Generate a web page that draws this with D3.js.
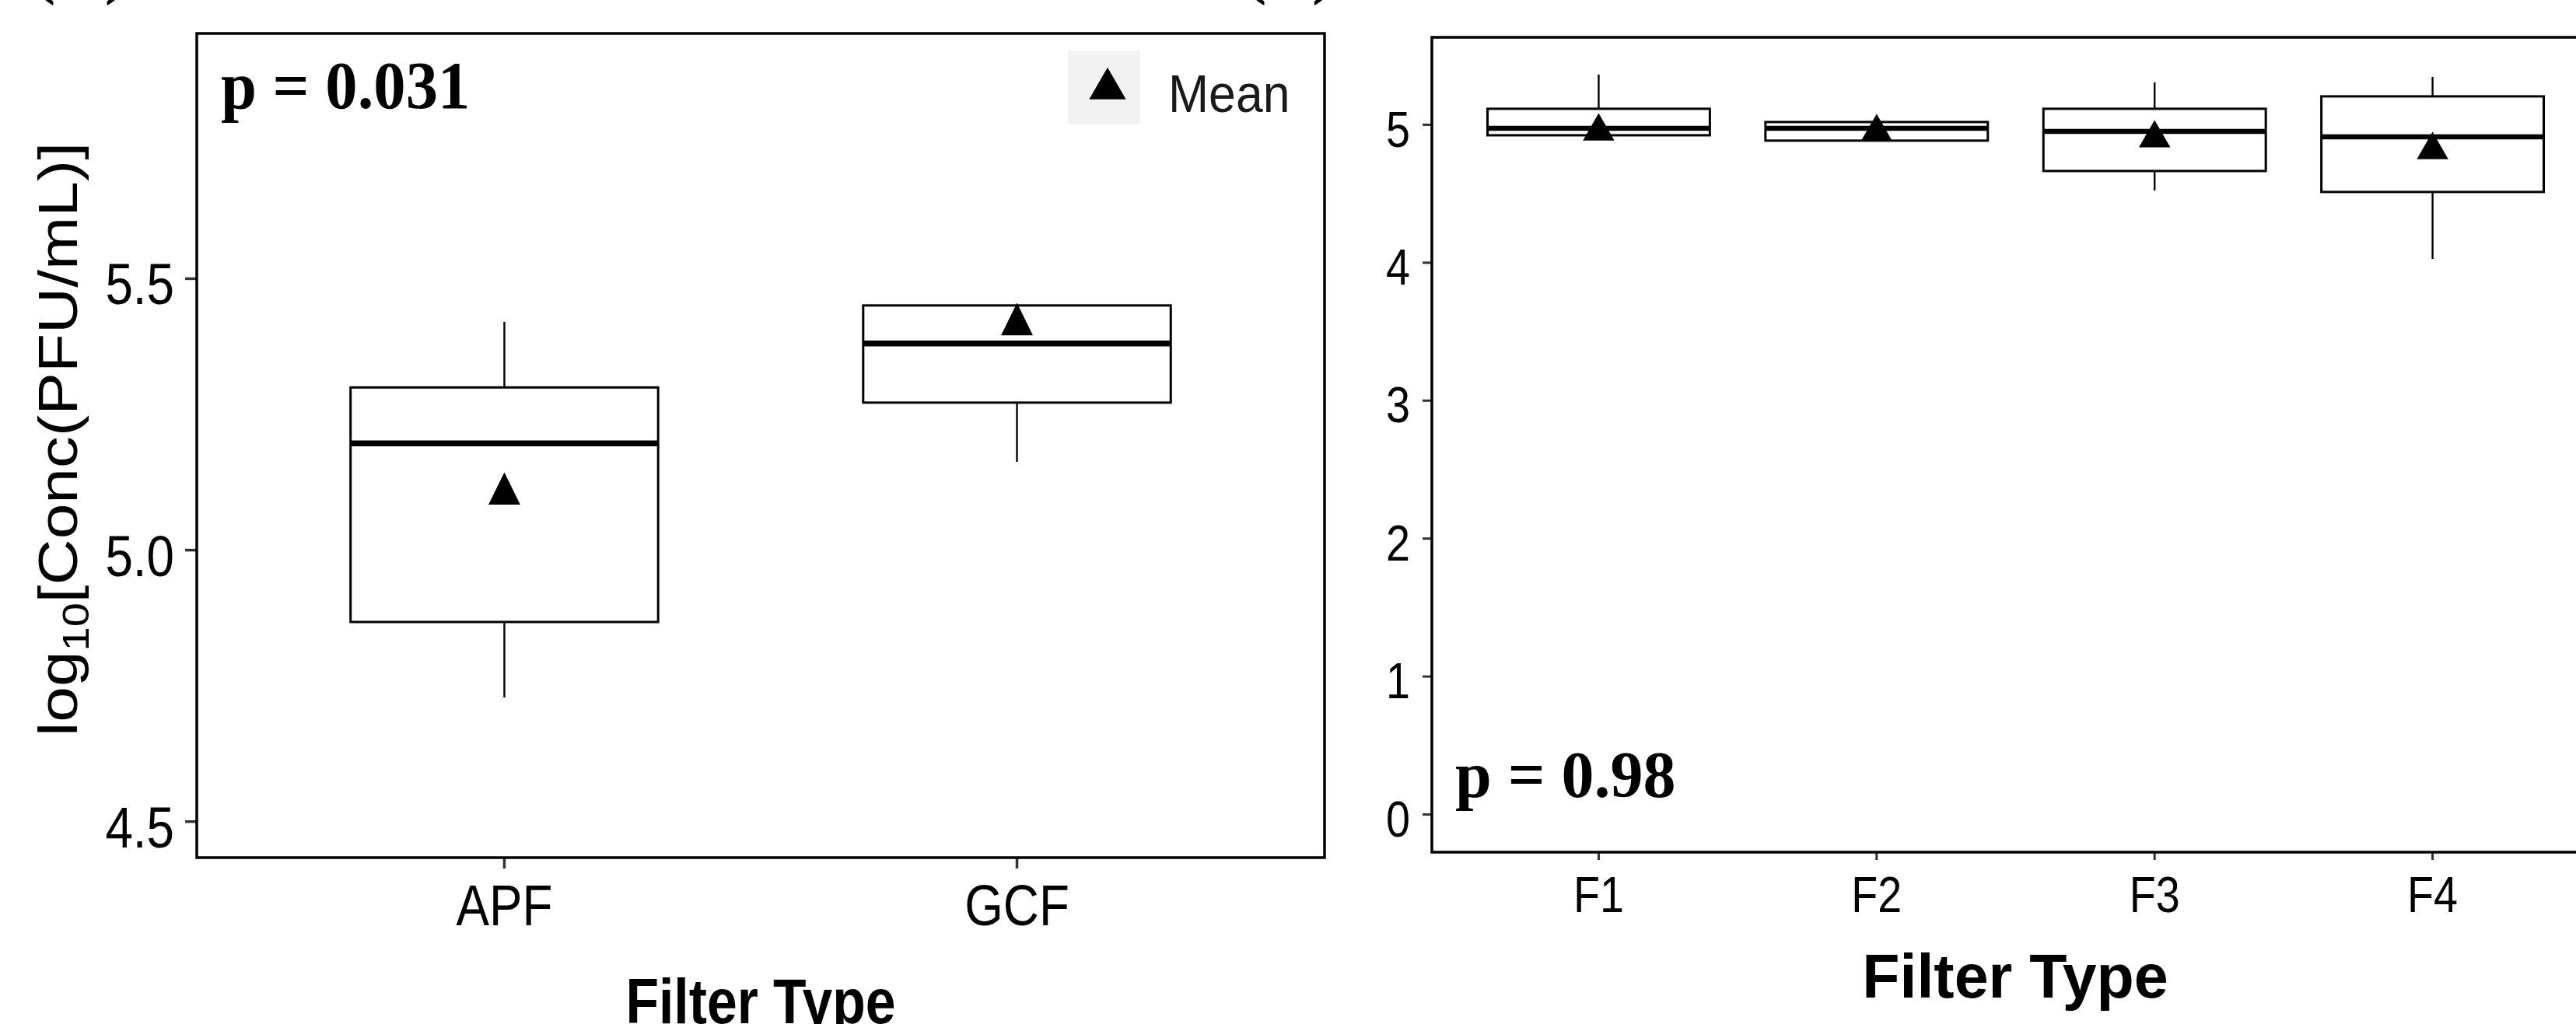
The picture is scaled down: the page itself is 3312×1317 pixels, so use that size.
<!DOCTYPE html>
<html lang="en">
<head>
    <meta charset="UTF-8">
    <title>Filter Type box plots</title>
    <style>
        body { margin: 0; background: #fff; }
        svg { display: block; }
        .sans { font-family: Arial, "Liberation Sans", sans-serif; }
        .serif { font-family: "Times New Roman", "Liberation Serif", serif; font-weight: bold; }
    </style>
</head>
<body>
    <div id="chart"></div>
    <script src="https://d3js.org/d3.v7.min.js"></script>
    <script>
        // panel A data (log10 PFU/mL)
        const leftCats = ["APF", "GCF"];
        const leftLow = [4.728, 5.162];
        const leftQ1 = [4.867, 5.271];
        const leftMedian = [5.196, 5.380];
        const leftQ3 = [5.299, 5.450];
        const leftHigh = [5.420, 5.450];
        const leftMean = [5.103, 5.415];
        const leftTicks = [4.5, 5.0, 5.5];

        // panel B data
        const rightCats = ["F1", "F2", "F3", "F4"];
        const rightLow = [4.921, 4.882, 4.521, 4.025];
        const rightQ1 = [4.921, 4.882, 4.662, 4.510];
        const rightMedian = [4.972, 4.972, 4.949, 4.910];
        const rightQ3 = [5.113, 5.017, 5.113, 5.203];
        const rightHigh = [5.361, 5.017, 5.304, 5.344];
        const rightMean = [4.949, 4.944, 4.899, 4.814];
        const rightTicks = [0, 1, 2, 3, 4, 5];

        const width = 3312;
        const height = 1317;

        const svg = d3.select('#chart')
            .append('svg')
            .attr('width', width)
            .attr('height', height);

        svg.append('rect').attr('width', width).attr('height', height).attr('fill', '#fff');

        // text placed in its own group so it can be squeezed horizontally
        function label(x, y, str, cls, size, sx, anchor) {
            const g = svg.append('g')
                .attr('transform', `translate(${x},${y}) scale(${sx},1)`);
            return g.append('text')
                .attr('class', cls)
                .attr('font-size', size)
                .attr('text-anchor', anchor || 'start')
                .attr('fill', '#000')
                .text(str);
        }

        function panel(cfg) {
            const x = d3.scaleBand()
                .domain(cfg.cats)
                .range([cfg.left, cfg.right])
                .paddingInner(0)
                .paddingOuter(0.1);
            const y = d3.scaleLinear()
                .domain(cfg.domain)
                .range([cfg.bottom, cfg.top]);

            const g = svg.append('g');
            const cx = d => x(d) + x.bandwidth() / 2;
            const half = x.bandwidth() * cfg.boxFrac / 2;

            const yAxis = d3.axisLeft(y)
                .tickValues(cfg.ticks)
                .tickFormat(cfg.fmt)
                .tickSize(cfg.yTick)
                .tickPadding(cfg.yPad);
            const ya = g.append('g')
                .attr('transform', `translate(${cfg.left},0)`)
                .call(yAxis);
            ya.select('.domain').remove();
            ya.selectAll('line').attr('stroke', '#333').attr('stroke-width', cfg.tickW);
            ya.selectAll('text')
                .attr('class', 'sans')
                .attr('font-size', cfg.tickFont)
                .attr('fill', '#000')
                .attr('dy', '0.44em')
                .attr('x', -(cfg.yTick + cfg.yPad) / cfg.tickSx)
                .attr('transform', `scale(${cfg.tickSx},1)`);

            const xAxis = d3.axisBottom(x)
                .tickSize(cfg.xTick)
                .tickPadding(cfg.xPad);
            const xa = g.append('g')
                .attr('transform', `translate(0,${cfg.bottom})`)
                .call(xAxis);
            xa.select('.domain').remove();
            xa.selectAll('line').attr('stroke', '#333').attr('stroke-width', cfg.tickW);
            xa.selectAll('text')
                .attr('class', 'sans')
                .attr('font-size', cfg.tickFont)
                .attr('fill', '#000')
                .attr('transform', `scale(${cfg.tickSx},1)`);
            xa.selectAll('.tick').each(function (d) {
                d3.select(this).attr('transform', `translate(${cx(d)},0)`);
            });

            const idx = cfg.cats.map((c, i) => i);
            const boxes = g.selectAll('.box').data(idx).enter().append('g');

            boxes.append('line')
                .attr('x1', i => cx(cfg.cats[i])).attr('x2', i => cx(cfg.cats[i]))
                .attr('y1', i => y(cfg.q3[i])).attr('y2', i => y(cfg.high[i]))
                .attr('stroke', '#000').attr('stroke-width', cfg.whiskW);
            boxes.append('line')
                .attr('x1', i => cx(cfg.cats[i])).attr('x2', i => cx(cfg.cats[i]))
                .attr('y1', i => y(cfg.q1[i])).attr('y2', i => y(cfg.low[i]))
                .attr('stroke', '#000').attr('stroke-width', cfg.whiskW);
            boxes.append('rect')
                .attr('x', i => cx(cfg.cats[i]) - half)
                .attr('width', half * 2)
                .attr('y', i => y(cfg.q3[i]))
                .attr('height', i => y(cfg.q1[i]) - y(cfg.q3[i]))
                .attr('fill', '#fff')
                .attr('stroke', '#000').attr('stroke-width', cfg.boxW);
            boxes.append('line')
                .attr('x1', i => cx(cfg.cats[i]) - half).attr('x2', i => cx(cfg.cats[i]) + half)
                .attr('y1', i => y(cfg.median[i])).attr('y2', i => y(cfg.median[i]))
                .attr('stroke', '#000').attr('stroke-width', cfg.medW);
            boxes.append('path')
                .attr('d', d3.symbol(d3.symbolTriangle, cfg.triSize)())
                .attr('transform', i => `translate(${cx(cfg.cats[i])},${y(cfg.mean[i])}) scale(${cfg.triSx},1)`)
                .attr('fill', '#000');

            g.append('rect')
                .attr('x', cfg.left).attr('y', cfg.top)
                .attr('width', cfg.right - cfg.left)
                .attr('height', cfg.bottom - cfg.top)
                .attr('fill', 'none')
                .attr('stroke', '#000')
                .attr('stroke-width', cfg.frameW);
        }

        panel({
            cats: leftCats, low: leftLow, q1: leftQ1, median: leftMedian,
            q3: leftQ3, high: leftHigh, mean: leftMean, ticks: leftTicks,
            fmt: d3.format('.1f'), domain: [4.433, 5.951],
            left: 253, right: 1703, top: 43, bottom: 1103,
            boxFrac: 0.6, boxW: 3, medW: 7.5, whiskW: 2.4, frameW: 3.5,
            yTick: 15, yPad: 14, xTick: 14, xPad: 20, tickW: 3.5,
            tickFont: 75, tickSx: 0.85, triSize: 1000, triSx: 0.85
        });

        panel({
            cats: rightCats, low: rightLow, q1: rightQ1, median: rightMedian,
            q3: rightQ3, high: rightHigh, mean: rightMean, ticks: rightTicks,
            fmt: d3.format('d'), domain: [-0.276, 5.631],
            left: 1841, right: 3342, top: 48, bottom: 1096,
            boxFrac: 0.8, boxW: 3, medW: 6.5, whiskW: 2.4, frameW: 3.5,
            yTick: 12, yPad: 16, xTick: 10, xPad: 22, tickW: 3,
            tickFont: 64, tickSx: 0.87, triSize: 710, triSx: 1
        });

        // annotations
        label(284, 139, 'p = 0.031', 'serif', 87, 0.95);
        label(1871, 1025, 'p = 0.98', 'serif', 84, 1);

        // panel letters, mostly cut off by the top edge
        label(42, -12, '(A)', 'serif', 88, 1);
        label(1599, -12, '(B)', 'serif', 88, 1);

        // legend
        svg.append('rect')
            .attr('x', 1373).attr('y', 66)
            .attr('width', 93).attr('height', 94)
            .attr('fill', '#f2f2f2');
        svg.append('path')
            .attr('d', d3.symbol(d3.symbolTriangle, 971)())
            .attr('transform', 'translate(1424,114)')
            .attr('fill', '#000');
        label(1502, 144, 'Mean', 'sans', 68, 0.92).attr('fill', '#1a1a1a');

        // axis titles
        label(978, 1316, 'Filter Type', 'sans', 82, 0.85, 'middle').attr('font-weight', 'bold');
        label(2591, 1283, 'Filter Type', 'sans', 79, 1, 'middle').attr('font-weight', 'bold');

        const yt = svg.append('g')
            .attr('transform', 'translate(99,565) scale(0.85,1) rotate(-90)')
            .append('text')
            .attr('class', 'sans')
            .attr('font-size', 82)
            .attr('text-anchor', 'middle')
            .attr('fill', '#000');
        yt.append('tspan').text('log');
        yt.append('tspan').attr('font-size', 56).attr('dy', 18).text('10');
        yt.append('tspan').attr('dy', -18).text('[Conc(PFU/mL)]');
    </script>
</body>
</html>
